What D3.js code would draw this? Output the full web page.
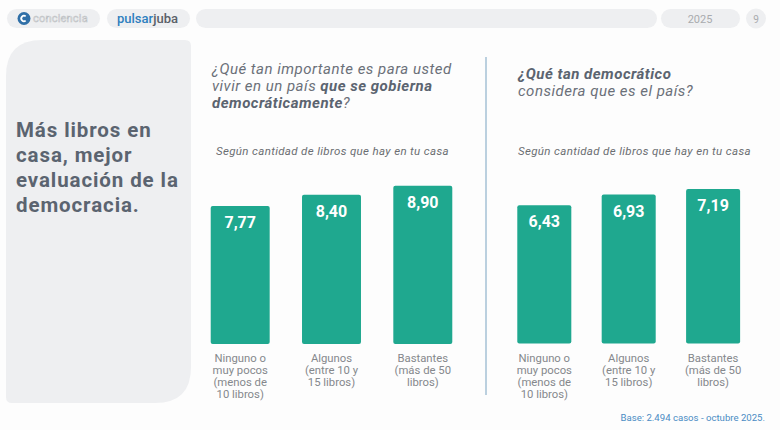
<!DOCTYPE html>
<html>
<head>
<meta charset="utf-8">
<script src="https://cdn.jsdelivr.net/npm/d3@7"></script>
<style>
  body { margin: 0; background: #fff; }
  svg { display: block; font-family: Roboto, "Liberation Sans", sans-serif; }
</style>
</head>
<body>
<div id="chart"></div>
<script>
// data
const categories = ['Ninguno', 'Algunos', 'Bastantes'];
const catLabels = [
  ['Ninguno o', 'muy pocos', '(menos de', '10 libros)'],
  ['Algunos', '(entre 10 y', '15 libros)'],
  ['Bastantes', '(más de 50', 'libros)']
];
const importanciaValues = [7.77, 8.40, 8.90];
const democraciaValues = [6.43, 6.93, 7.19];

const W = 780, H = 430;
const teal = '#1fa88f';
const fmt = v => d3.format('.2f')(v).replace('.', ',');

const svg = d3.select('#chart').append('svg')
  .attr('width', W)
  .attr('height', H);

svg.append('rect').attr('width', W).attr('height', H).attr('fill', '#fdfdfd');

// top bar
const pill = '#eeeff1';
svg.append('rect').attr('x', 7).attr('y', 9).attr('width', 93).attr('height', 19).attr('rx', 9.5).attr('fill', pill);
svg.append('rect').attr('x', 107).attr('y', 9).attr('width', 83).attr('height', 19).attr('rx', 9.5).attr('fill', pill);
svg.append('rect').attr('x', 196).attr('y', 9).attr('width', 461).attr('height', 19).attr('rx', 9.5).attr('fill', pill);
svg.append('rect').attr('x', 661).attr('y', 9).attr('width', 79).attr('height', 19).attr('rx', 9.5).attr('fill', pill);
svg.append('circle').attr('cx', 756).attr('cy', 18.5).attr('r', 10).attr('fill', pill);

svg.append('circle').attr('cx', 24).attr('cy', 18.5).attr('r', 6.5).attr('fill', '#2f6fa7');
svg.append('path')
  .attr('d', d3.arc()({ innerRadius: 1.8, outerRadius: 3.6, startAngle: 0.9, endAngle: 2 * Math.PI - 0.9 }))
  .attr('transform', 'translate(24,18.5) rotate(90)')
  .attr('fill', '#fff');
svg.append('text').attr('x', 33).attr('y', 22).attr('font-size', 11)
  .attr('fill', 'none').attr('stroke', '#b9bcc0').attr('stroke-width', 0.5)
  .style('letter-spacing', '0.2px').text('conciencia');

const ps = svg.append('text').attr('x', 117).attr('y', 22.5).attr('font-size', 13).attr('font-weight', 500);
ps.append('tspan').attr('fill', '#2e7fbf').text('pulsar');
ps.append('tspan').attr('fill', '#5a6068').text('juba');

svg.append('text').attr('x', 700).attr('y', 22.5).attr('text-anchor', 'middle')
  .attr('font-size', 11).attr('fill', '#a9abae').text('2025');
svg.append('text').attr('x', 756).attr('y', 22.5).attr('text-anchor', 'middle')
  .attr('font-size', 10).attr('fill', '#a9abae').text('9');

// left panel
const px0 = 6, py0 = 40, px1 = 191, py1 = 403, rBig = 36, rSmall = 6;
svg.append('path')
  .attr('d', `M${px0},${py0 + rBig} Q${px0},${py0} ${px0 + rBig},${py0}
    L${px1 - rSmall},${py0} Q${px1},${py0} ${px1},${py0 + rSmall}
    L${px1},${py1 - rBig} Q${px1},${py1} ${px1 - rBig},${py1}
    L${px0 + rSmall},${py1} Q${px0},${py1} ${px0},${py1 - rSmall} Z`)
  .attr('fill', '#eeeff1');

const titleLines = ['Más libros en', 'casa, mejor', 'evaluación de la', 'democracia.'];
svg.append('g').selectAll('text')
  .data(titleLines)
  .join('text')
  .attr('x', 16)
  .attr('y', (d, i) => 137 + i * 25)
  .attr('font-size', 20.5)
  .attr('font-weight', 700)
  .attr('fill', '#5b6470')
  .style('letter-spacing', '0.9px')
  .text(d => d);

// divider
svg.append('line')
  .attr('x1', 486).attr('x2', 486).attr('y1', 57).attr('y2', 395)
  .attr('stroke', '#8fb3cc').attr('stroke-width', 1.2);

// question titles
const qCol = '#6b7079', qBold = '#5b6470';
function question(x, y, lines) {
  const t = svg.append('text').attr('font-size', 15).attr('font-style', 'italic')
    .attr('fill', qCol).style('letter-spacing', '0.5px');
  lines.forEach((parts, i) => {
    parts.forEach((p, j) => {
      const ts = t.append('tspan').text(p.t);
      if (j === 0) ts.attr('x', x).attr('y', y + i * 16.8);
      if (p.b) ts.attr('font-weight', 700).attr('fill', qBold);
    });
  });
}
question(212, 74, [
  [{ t: '¿Qué tan importante es para usted' }],
  [{ t: 'vivir en un país ' }, { t: 'que se gobierna', b: true }],
  [{ t: 'democráticamente', b: true }, { t: '?' }]
]);
question(518, 79, [
  [{ t: '¿Qué tan democrático', b: true }],
  [{ t: 'considera que es el país?' }]
]);

const sub = 'Según cantidad de libros que hay en tu casa';
[216, 518].forEach(x => {
  svg.append('text').attr('x', x).attr('y', 155).attr('font-size', 11.5)
    .attr('font-style', 'italic').attr('fill', '#6b6e72')
    .style('letter-spacing', '0.35px').text(sub);
});

// bar charts
function barChart(values, xRange, pad, yDomainMax, yRange) {
  const x = d3.scaleBand().domain(categories).range(xRange).padding(pad);
  const y = d3.scaleLinear().domain([0, yDomainMax]).range(yRange);
  const rows = categories.map((c, i) => ({ c, v: values[i], lab: catLabels[i] }));
  const g = svg.append('g');

  g.selectAll('rect')
    .data(rows)
    .join('rect')
    .attr('x', d => x(d.c))
    .attr('y', d => y(d.v))
    .attr('width', x.bandwidth())
    .attr('height', d => y(0) - y(d.v))
    .attr('rx', 2)
    .attr('fill', teal);

  g.selectAll('text.val')
    .data(rows)
    .join('text')
    .attr('class', 'val')
    .attr('x', d => x(d.c) + x.bandwidth() / 2)
    .attr('y', d => y(d.v) + 22)
    .attr('text-anchor', 'middle')
    .attr('font-size', 16)
    .attr('font-weight', 700)
    .attr('fill', '#fff')
    .text(d => fmt(d.v));

  const lab = g.selectAll('text.cat')
    .data(rows)
    .join('text')
    .attr('class', 'cat')
    .attr('text-anchor', 'middle')
    .attr('font-size', 11.3)
    .attr('fill', '#85888c');
  lab.selectAll('tspan')
    .data(d => d.lab.map(t => ({ t, cx: x(d.c) + x.bandwidth() / 2 })))
    .join('tspan')
    .attr('x', d => d.cx)
    .attr('y', (d, i) => y(0) + 18 + i * 12)
    .text(d => d.t);
}

barChart(importanciaValues, [178.4, 484.6], 0.354, 10, [344, 166.3]);
barChart(democraciaValues, [486.9, 770.5], 0.36, 8, [343.5, 171.5]);

svg.append('text').attr('x', 765).attr('y', 421).attr('text-anchor', 'end')
  .attr('font-size', 9.6).attr('fill', '#4a8cc4').text('Base: 2.494 casos - octubre 2025.');
</script>
</body>
</html>
